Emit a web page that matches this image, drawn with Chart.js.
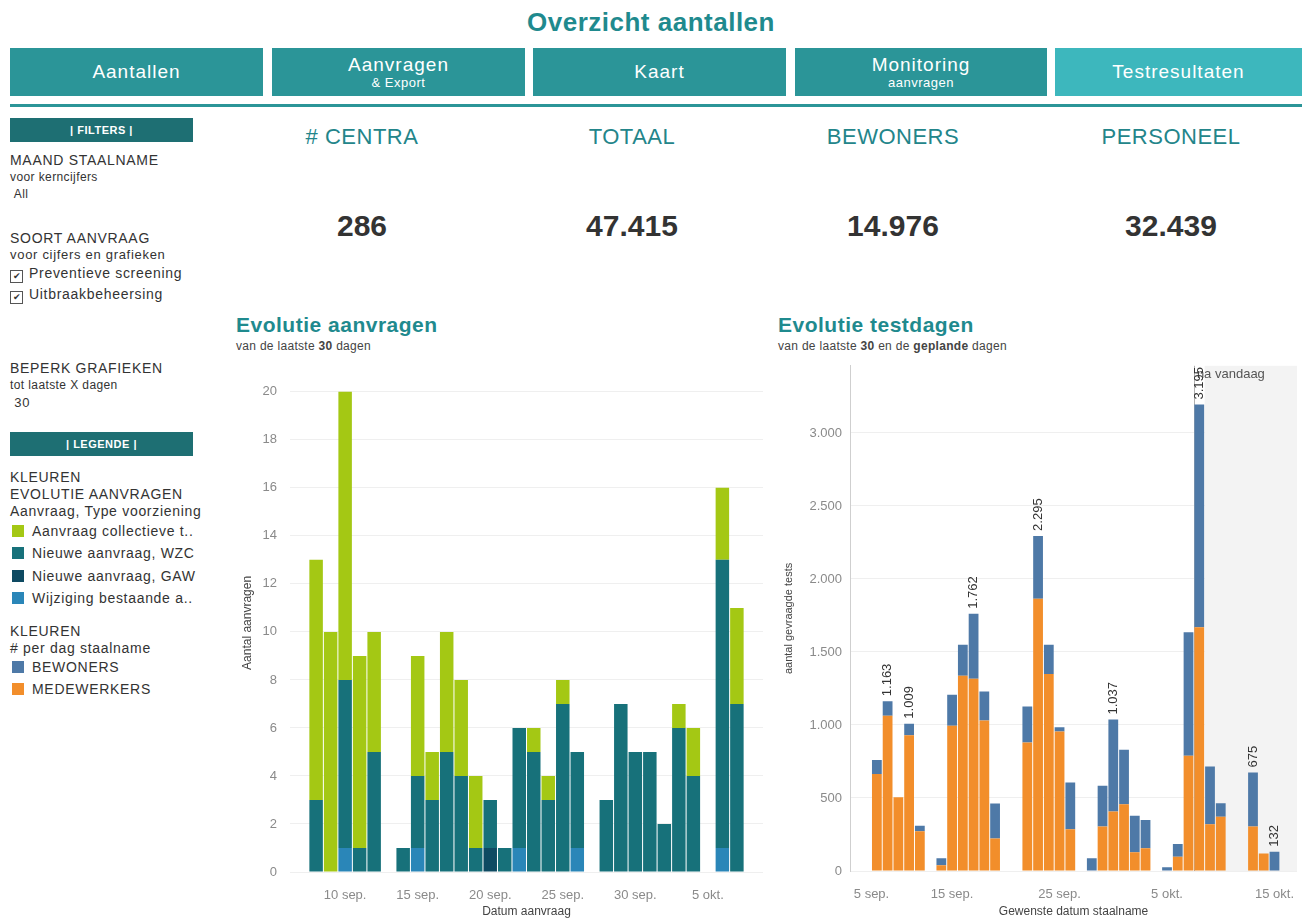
<!DOCTYPE html>
<html lang="nl">
<head>
<meta charset="utf-8">
<title>Overzicht aantallen</title>
<script src="https://cdn.jsdelivr.net/npm/chart.js@4.4.1/dist/chart.umd.min.js"></script>
<style>
  body { margin: 0; background: #fff; font-family: Arial, "Liberation Sans", sans-serif; color: #333; }
  #dash { position: relative; width: 1302px; height: 923px; overflow: hidden; }
  #dash > * { position: absolute; }
  h1 { left: 0; width: 1302px; top: 7px; margin: 0; text-align: center; font-size: 26px; letter-spacing: 0.5px; color: #1f8a8e; }
  .nav { top: 48px; height: 48px; background: #2b9598; color: #fff; display: flex; flex-direction: column;
         justify-content: center; align-items: center; font-size: 19px; line-height: 20px; letter-spacing: 1px; }
  .nav small { font-size: 13px; line-height: 15px; letter-spacing: 0.5px; }
  .nav.licht { background: #3db7bd; }
  .streep { left: 10px; top: 104px; width: 1292px; height: 3px; background: #2b9598; }
  .kop { left: 10px; width: 183px; height: 24px; background: #1e6f73; color: #fff; font-size: 11px;
         font-weight: bold; line-height: 24px; text-align: center; letter-spacing: 0.5px; }
  .t12 { left: 10px; font-size: 14px; letter-spacing: 0.7px; white-space: nowrap; }
  .t11 { left: 10px; font-size: 13px; letter-spacing: 0.7px; white-space: nowrap; }
  .t10 { left: 10px; font-size: 12px; letter-spacing: 0.4px; white-space: nowrap; }
  .vak { display: inline-block; width: 11px; height: 11px; border: 1px solid #555; font-size: 9px; line-height: 11px;
         text-align: center; margin-right: 6px; vertical-align: -1px; letter-spacing: 0; }
  .kleur { display: inline-block; width: 12px; height: 12px; margin-right: 8px; vertical-align: -1px; }
  .kpi { width: 260px; text-align: center; font-size: 22px; letter-spacing: 0.5px; color: #23858a; }
  .getal { width: 260px; text-align: center; font-size: 30px; font-weight: bold; color: #333; }
  .titel { font-size: 21px; font-weight: bold; letter-spacing: 0.5px; color: #1f8a8e; }
  .sub { font-size: 12px; letter-spacing: 0.3px; color: #444; }
  canvas { position: absolute; }
</style>
</head>
<body>
<div id="dash">
  <h1>Overzicht aantallen</h1>
  <div class="nav" style="left:10px;width:253px">Aantallen</div>
  <div class="nav" style="left:272px;width:253px">Aanvragen<small>&amp; Export</small></div>
  <div class="nav" style="left:533px;width:253px">Kaart</div>
  <div class="nav" style="left:795px;width:252px">Monitoring<small>aanvragen</small></div>
  <div class="nav licht" style="left:1055px;width:247px">Testresultaten</div>
  <div class="streep"></div>

  <div class="kop" style="top:118px">| FILTERS |</div>
  <div class="t12" style="top:152px">MAAND STAALNAME</div>
  <div class="t10" style="top:170px">voor kerncijfers</div>
  <div class="t10" style="top:187px">&nbsp;All</div>
  <div class="t12" style="top:230px">SOORT AANVRAAG</div>
  <div class="t11" style="top:247px">voor cijfers en grafieken</div>
  <div class="t12" style="top:265px"><span class="vak">✔</span>Preventieve screening</div>
  <div class="t12" style="top:286px"><span class="vak">✔</span>Uitbraakbeheersing</div>
  <div class="t12" style="top:360px">BEPERK GRAFIEKEN</div>
  <div class="t10" style="top:378px">tot laatste X dagen</div>
  <div class="t11" style="top:395px">&nbsp;30</div>

  <div class="kop" style="top:432px">| LEGENDE |</div>
  <div class="t12" style="top:469px">KLEUREN</div>
  <div class="t12" style="top:486px">EVOLUTIE AANVRAGEN</div>
  <div class="t12" style="top:503px">Aanvraag, Type voorziening</div>
  <div class="t12" style="top:523px;left:12px"><span class="kleur" style="background:#a4c814"></span>Aanvraag collectieve t..</div>
  <div class="t12" style="top:545px;left:12px"><span class="kleur" style="background:#17717a"></span>Nieuwe aanvraag, WZC</div>
  <div class="t12" style="top:568px;left:12px"><span class="kleur" style="background:#0e4a62"></span>Nieuwe aanvraag, GAW</div>
  <div class="t12" style="top:590px;left:12px"><span class="kleur" style="background:#2a86b8"></span>Wijziging bestaande a..</div>
  <div class="t12" style="top:623px">KLEUREN</div>
  <div class="t12" style="top:640px"># per dag staalname</div>
  <div class="t12" style="top:659px;left:12px"><span class="kleur" style="background:#4e79a7"></span>BEWONERS</div>
  <div class="t12" style="top:681px;left:12px"><span class="kleur" style="background:#f28e2b"></span>MEDEWERKERS</div>

  <div class="kpi" style="left:232px;top:124px"># CENTRA</div>
  <div class="kpi" style="left:502px;top:124px">TOTAAL</div>
  <div class="kpi" style="left:763px;top:124px">BEWONERS</div>
  <div class="kpi" style="left:1041px;top:124px">PERSONEEL</div>
  <div class="getal" style="left:232px;top:209px">286</div>
  <div class="getal" style="left:502px;top:209px">47.415</div>
  <div class="getal" style="left:763px;top:209px">14.976</div>
  <div class="getal" style="left:1041px;top:209px">32.439</div>

  <div class="titel" style="left:236px;top:313px">Evolutie aanvragen</div>
  <div class="sub" style="left:236px;top:339px">van de laatste <b>30</b> dagen</div>
  <div class="titel" style="left:778px;top:313px">Evolutie testdagen</div>
  <div class="sub" style="left:778px;top:339px">van de laatste <b>30</b> en de <b>geplande</b> dagen</div>

  <canvas id="aanvragen" width="534" height="570" style="left:236px;top:353px"></canvas>
  <canvas id="testdagen" width="524" height="573" style="left:778px;top:350px"></canvas>
</div>

<script>
const startDatum = '2020-09-08';
const vandaag = '2020-10-08';

// Evolutie aanvragen (per datum aanvraag)
const aanvraagDatums = ['2020-09-08', '2020-09-09', '2020-09-10', '2020-09-11', '2020-09-12', '2020-09-14',
  '2020-09-15', '2020-09-16', '2020-09-17', '2020-09-18', '2020-09-19', '2020-09-20', '2020-09-21',
  '2020-09-22', '2020-09-23', '2020-09-24', '2020-09-25', '2020-09-26', '2020-09-28', '2020-09-29',
  '2020-09-30', '2020-10-01', '2020-10-02', '2020-10-03', '2020-10-04', '2020-10-06', '2020-10-07'];
const wijziging = [0, 0, 1, 0, 0, 0, 1, 0, 0, 0, 0, 0, 0, 1, 0, 0, 0, 1, 0, 0, 0, 0, 0, 0, 0, 1, 0];
const nieuwGAW = [0, 0, 0, 0, 0, 0, 0, 0, 0, 0, 0, 1, 0, 0, 0, 0, 0, 0, 0, 0, 0, 0, 0, 0, 0, 0, 0];
const nieuwWZC = [3, 0, 7, 1, 5, 1, 3, 3, 5, 4, 1, 2, 1, 5, 5, 3, 7, 4, 3, 7, 5, 5, 2, 6, 4, 12, 7];
const collectief = [10, 10, 12, 8, 5, 0, 5, 2, 5, 4, 3, 0, 0, 0, 1, 1, 1, 0, 0, 0, 0, 0, 0, 1, 2, 3, 4];
const aanvraagTickDatums = ['2020-09-10', '2020-09-15', '2020-09-20', '2020-09-25', '2020-09-30', '2020-10-05'];
const aanvraagTickLabels = ['10 sep.', '15 sep.', '20 sep.', '25 sep.', '30 sep.', '5 okt.'];
const aanvraagYTicks = [0, 2, 4, 6, 8, 10, 12, 14, 16, 18, 20];

// Evolutie testdagen (per gewenste datum staalname)
const testDatums = ['2020-09-08', '2020-09-09', '2020-09-10', '2020-09-11', '2020-09-12', '2020-09-14',
  '2020-09-15', '2020-09-16', '2020-09-17', '2020-09-18', '2020-09-19', '2020-09-22', '2020-09-23',
  '2020-09-24', '2020-09-25', '2020-09-26', '2020-09-28', '2020-09-29', '2020-09-30', '2020-10-01',
  '2020-10-02', '2020-10-03', '2020-10-05', '2020-10-06', '2020-10-07', '2020-10-08', '2020-10-09',
  '2020-10-10', '2020-10-13', '2020-10-14', '2020-10-15'];
const medewerkers = [665, 1063, 505, 930, 272, 40, 995, 1338, 1317, 1030, 222, 880, 1864, 1350, 955, 286,
  0, 304, 407, 457, 128, 156, 0, 98, 790, 1670, 320, 372, 304, 120, 0];
const bewoners = [95, 100, 0, 79, 38, 48, 212, 212, 445, 200, 240, 247, 431, 200, 30, 320,
  87, 280, 630, 373, 250, 194, 25, 87, 845, 1525, 395, 92, 371, 0, 132];
const gelabeldeDatums = ['2020-09-09', '2020-09-11', '2020-09-17', '2020-09-23', '2020-09-30', '2020-10-08',
  '2020-10-13', '2020-10-15'];
const testTickDatums = ['2020-09-05', '2020-09-15', '2020-09-25', '2020-10-05', '2020-10-15'];
const testTickLabels = ['5 sep.', '15 sep.', '25 sep.', '5 okt.', '15 okt.'];
const testYTicks = [0, 500, 1000, 1500, 2000, 2500, 3000];

Chart.defaults.font.family = 'Arial, "Liberation Sans", sans-serif';
Chart.defaults.color = '#8a8a8a';

function dagNr(d) {
  return Math.round((Date.parse(d) - Date.parse(startDatum)) / 86400000);
}
function punten(datums, waarden) {
  return datums.map((d, i) => ({ x: dagNr(d), y: waarden[i] }));
}
function fmt(n) {
  return String(n).replace(/\B(?=(\d{3})+(?!\d))/g, '.');
}
function vasteTicks(lijst) {
  return (scale) => { scale.ticks = lijst.map((v) => ({ value: v })); };
}

// links: aanvragen
new Chart(document.getElementById('aanvragen'), {
  type: 'bar',
  data: {
    datasets: [
      { label: 'Wijziging bestaande aanvraag', data: punten(aanvraagDatums, wijziging), backgroundColor: '#2a86b8' },
      { label: 'Nieuwe aanvraag, GAW', data: punten(aanvraagDatums, nieuwGAW), backgroundColor: '#0e4a62' },
      { label: 'Nieuwe aanvraag, WZC', data: punten(aanvraagDatums, nieuwWZC), backgroundColor: '#17717a' },
      { label: 'Aanvraag collectieve testing', data: punten(aanvraagDatums, collectief), backgroundColor: '#a4c814' },
    ],
  },
  options: {
    responsive: false,
    animation: false,
    layout: { padding: { top: 4, right: 7 } },
    datasets: { bar: { barPercentage: 0.93, categoryPercentage: 1, borderWidth: 0 } },
    plugins: { legend: { display: false }, tooltip: { enabled: false } },
    scales: {
      x: {
        type: 'linear',
        offset: false,
        stacked: true,
        min: -1.8,
        max: 30.8,
        grid: { display: false },
        border: { display: false },
        afterBuildTicks: vasteTicks(aanvraagTickDatums.map(dagNr)),
        ticks: { padding: 8, font: { size: 13 }, callback: (v, i) => aanvraagTickLabels[i] },
        title: { display: true, text: 'Datum aanvraag', color: '#444', font: { size: 12 } },
        afterFit: (s) => { s.height = 51; },
      },
      y: {
        stacked: true,
        min: 0,
        max: 20.75,
        grid: { color: '#efefef', drawTicks: false },
        border: { display: false },
        afterBuildTicks: vasteTicks(aanvraagYTicks),
        ticks: { padding: 13, font: { size: 13 } },
        title: { display: true, text: 'Aantal aanvragen', color: '#444', font: { size: 12 } },
        afterFit: (s) => { s.width = 54; },
      },
    },
  },
});

// rechts: testdagen, met "vandaag" lijn, band en totalen
const vandaagPlugin = {
  id: 'vandaag',
  beforeDatasetsDraw(chart) {
    const { ctx, chartArea: a, scales: { x } } = chart;
    const lijn = Math.round(x.getPixelForValue(dagNr(vandaag) - 0.5)) + 0.5;
    const band = x.getPixelForValue(dagNr(vandaag) + 0.5);
    ctx.save();
    ctx.fillStyle = '#f3f3f3';
    ctx.fillRect(band, a.top, a.right - band, a.bottom - a.top);
    ctx.strokeStyle = '#b0b0b0';
    ctx.lineWidth = 1;
    ctx.beginPath();
    ctx.moveTo(lijn, a.top);
    ctx.lineTo(lijn, a.bottom);
    ctx.stroke();
    ctx.restore();
  },
  afterDatasetsDraw(chart) {
    const { ctx, chartArea: a, scales: { x } } = chart;
    const lijn = x.getPixelForValue(dagNr(vandaag) - 0.5);
    ctx.save();
    ctx.font = '13px Arial, "Liberation Sans", sans-serif';
    ctx.fillStyle = '#555';
    ctx.textBaseline = 'middle';
    ctx.fillText('na vandaag', lijn + 3, a.top + 9);

    const meta = chart.getDatasetMeta(chart.data.datasets.length - 1);
    ctx.fillStyle = '#333';
    ctx.textAlign = 'left';
    gelabeldeDatums.forEach((d) => {
      const i = testDatums.indexOf(d);
      const el = meta.data[i];
      ctx.save();
      ctx.translate(el.x, el.y - 5);
      ctx.rotate(-Math.PI / 2);
      ctx.fillText(fmt(medewerkers[i] + bewoners[i]), 0, 0);
      ctx.restore();
    });
    ctx.restore();
  },
};

const testMin = -2.5;
new Chart(document.getElementById('testdagen'), {
  type: 'bar',
  data: {
    datasets: [
      { label: 'MEDEWERKERS', data: punten(testDatums, medewerkers), backgroundColor: '#f28e2b' },
      { label: 'BEWONERS', data: punten(testDatums, bewoners), backgroundColor: '#4e79a7' },
    ],
  },
  options: {
    responsive: false,
    animation: false,
    layout: { padding: { top: 3, right: 0 } },
    datasets: { bar: { barPercentage: 0.91, categoryPercentage: 1, borderWidth: 0 } },
    plugins: { legend: { display: false }, tooltip: { enabled: false } },
    scales: {
      x: {
        type: 'linear',
        offset: false,
        stacked: true,
        min: testMin,
        max: 39.1,
        grid: { display: false },
        border: { display: false },
        // eerste label schuift naar binnen, zoals in Tableau
        afterBuildTicks: vasteTicks(testTickDatums.map((d) => Math.max(dagNr(d), testMin + 2))),
        ticks: { padding: 8, font: { size: 13 }, callback: (v, i) => testTickLabels[i] },
        title: { display: true, text: 'Gewenste datum staalname', color: '#444', font: { size: 12 } },
        afterFit: (s) => { s.height = 52; },
      },
      y: {
        stacked: true,
        min: 0,
        max: 3460,
        grid: { color: '#efefef', drawTicks: false },
        border: { display: true, color: '#cfcfcf' },
        afterBuildTicks: vasteTicks(testYTicks),
        ticks: { padding: 8, font: { size: 13 }, callback: (v) => fmt(v) },
        title: { display: true, text: 'aantal gevraagde tests', color: '#444', font: { size: 11 } },
        afterFit: (s) => { s.width = 72; },
      },
    },
  },
  plugins: [vandaagPlugin],
});
</script>
</body>
</html>
